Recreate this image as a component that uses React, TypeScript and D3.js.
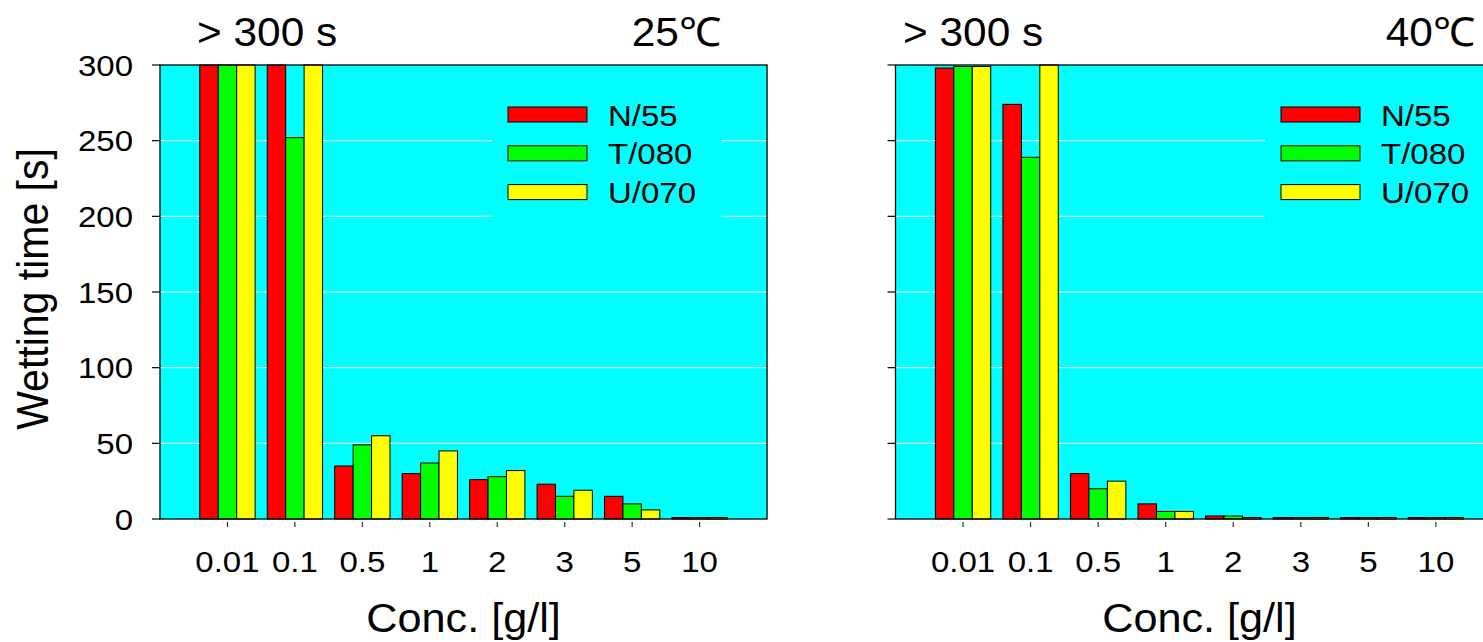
import React from "react";
import * as d3 from "d3";

const categories = ["0.01", "0.1", "0.5", "1", "2", "3", "5", "10"];
const seriesNames = ["N/55", "T/080", "U/070"];
const seriesColors = ["#ff0000", "#00ff00", "#ffff00"];

// 25 °C panel
const n55At25 = [300, 300, 35, 30, 26, 23, 15, 1];
const t080At25 = [300, 252, 49, 37, 28, 15, 10, 1];
const u070At25 = [300, 300, 55, 45, 32, 19, 6, 1];

// 40 °C panel
const n55At40 = [298, 274, 30, 10, 2, 1, 1, 1];
const t080At40 = [299, 239, 20, 5, 2, 1, 1, 1];
const u070At40 = [299, 300, 25, 5, 1, 1, 1, 1];

const yTicks = [0, 50, 100, 150, 200, 250, 300];
const gridValues = [50, 100, 150, 200, 250];

const FONT = "'Liberation Sans', Arial, Helvetica, sans-serif";

type PanelProps = {
  left: number;
  step: number;
  values: number[][];
  tempLabel: string;
  tempRight: number;
  titleLeft: number;
  legendLeft: number;
  showYLabels: boolean;
};

function STxt({ x, y, size, sx = 1, sy = 1, anchor = "start", children, rotate = 0 }: any) {
  return (
    <text
      transform={`translate(${x},${y}) rotate(${rotate}) scale(${sx},${sy})`}
      fontFamily={FONT}
      fontSize={size}
      textAnchor={anchor}
      fill="#000"
    >
      {children}
    </text>
  );
}

function Panel({ left, step, values, tempLabel, tempRight, titleLeft, legendLeft, showYLabels }: PanelProps) {
  const top = 65;
  const bottom = 519;
  const right = left + step * 9;
  const x = d3.scaleLinear().domain([0, 9]).range([left, right]);
  const y = d3.scaleLinear().domain([0, 300]).range([bottom, top]);
  const inner = d3.scaleBand<string>().domain(seriesNames).range([-step * 0.41, step * 0.41]);
  const bw = inner.bandwidth();

  return (
    <g>
      <rect x={left} y={top} width={right - left} height={bottom - top} fill="#00ffff" />
      {gridValues.map((v) => (
        <line key={v} x1={left} x2={right} y1={y(v)} y2={y(v)} stroke="#ffffff" strokeWidth={1} />
      ))}
      {/* legend box */}
      <rect x={legendLeft} y={88} width={230} height={140} fill="#00ffff" />
      {categories.map((c, i) =>
        seriesNames.map((s, j) => {
          const v = values[j][i];
          const bx = x(i + 1) + (inner(s) as number);
          return (
            <rect
              key={c + s}
              x={bx}
              y={y(v)}
              width={bw}
              height={y(0) - y(v)}
              fill={seriesColors[j]}
              stroke="#000"
              strokeWidth={1}
            />
          );
        })
      )}
      <rect x={left} y={top} width={right - left} height={bottom - top} fill="none" stroke="#000" strokeWidth={1.3} />
      {yTicks.map((t) => (
        <g key={t}>
          <line x1={left - 8} x2={left} y1={y(t)} y2={y(t)} stroke="#000" strokeWidth={1.2} />
          {showYLabels && (
            <STxt x={left - 27} y={y(t) + 10.5} size={30} sx={1.1} anchor="end">
              {t}
            </STxt>
          )}
        </g>
      ))}
      {categories.map((c, i) => (
        <g key={c}>
          <line x1={x(i + 1)} x2={x(i + 1)} y1={bottom + 3} y2={bottom + 8} stroke="#333" strokeWidth={1.2} />
          <STxt x={x(i + 1)} y={572} size={30} sx={1.1} anchor="middle">
            {c}
          </STxt>
        </g>
      ))}
      <STxt x={(left + left + step * 9) / 2} y={632} size={40} sx={1.08} anchor="middle">
        Conc. [g/l]
      </STxt>
      <STxt x={titleLeft} y={46} size={40} sx={1.06} anchor="start">
        {"> 300 s"}
      </STxt>
      <STxt x={tempRight} y={46} size={40} sx={1.06} anchor="end">
        {tempLabel}
      </STxt>
      {seriesNames.map((s, j) => (
        <g key={s}>
          <rect x={legendLeft + 16} y={107 + j * 38.8} width={79} height={15} fill={seriesColors[j]} stroke="#000" strokeWidth={1} />
          <STxt x={legendLeft + 116} y={125.5 + j * 38.8} size={30} sx={1.1} anchor="start">
            {s}
          </STxt>
        </g>
      ))}
    </g>
  );
}

export default function App() {
  return (
    <svg
      width={1483}
      height={642}
      style={{ position: "absolute", left: 0, top: 0, display: "block", background: "#fff" }}
    >
      <rect x={0} y={0} width={1483} height={642} fill="#fff" />
      <Panel
        left={160}
        step={67.45}
        values={[n55At25, t080At25, u070At25]}
        tempLabel="25℃"
        tempRight={721}
        titleLeft={197}
        legendLeft={492}
        showYLabels={true}
      />
      <Panel
        left={895.5}
        step={67.55}
        values={[n55At40, t080At40, u070At40]}
        tempLabel="40℃"
        tempRight={1475}
        titleLeft={903}
        legendLeft={1265}
        showYLabels={false}
      />
      <STxt x={48} y={289} size={41} sx={1.0} sy={1.1} anchor="middle" rotate={-90}>
        Wetting time [s]
      </STxt>
    </svg>
  );
}
